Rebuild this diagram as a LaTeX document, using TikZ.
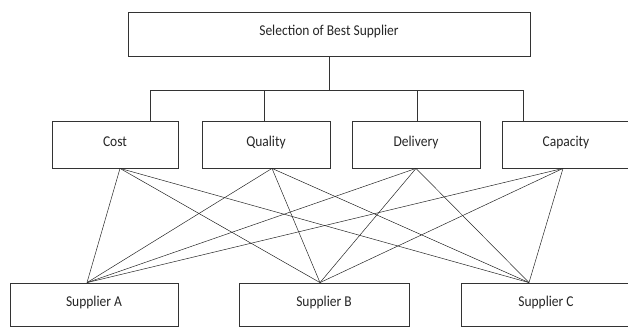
\documentclass[tikz,border=0pt]{standalone}
\usepackage{fontspec}
\setmainfont{Carlito}[FakeStretch=0.9]
\begin{document}
\begin{tikzpicture}[
            x=1pt,y=-1pt,
            box/.style={rectangle,draw=black!80,line width=0.8pt,inner sep=0pt,text=black!85,text height=11pt,text depth=8pt,font=\fontsize{15}{17}\selectfont},
            link/.style={draw=black!85,line width=0.5pt}
        ]
        \useasboundingbox (0,0) rectangle (628,329);
        \node[box,minimum width=402pt,minimum height=44pt] (top) at (329,34) {Selection of Best Supplier};
        \node[box,minimum width=126pt,minimum height=47pt] (cost) at (115,144.5) {Cost};
        \node[box,minimum width=128pt,minimum height=47pt] (quality) at (266,144.5) {Quality};
        \node[box,minimum width=128pt,minimum height=47pt] (delivery) at (416,144.5) {Delivery};
        \node[box,minimum width=128pt,minimum height=47pt] (capacity) at (566,144.5) {Capacity};
        \node[box,minimum width=168pt,minimum height=43pt] (suppA) at (94,304.5) {Supplier A};
        \node[box,minimum width=170pt,minimum height=43pt] (suppB) at (324,304.5) {Supplier B};
        \node[box,minimum width=170pt,minimum height=43pt] (suppC) at (546,304.5) {Supplier C};
        \coordinate (bar) at (329,90);
        \draw[draw=black!80,line width=0.8pt] (top.south) -- (bar);
        \draw[draw=black!80,line width=0.8pt] ([xshift=35pt]cost.north) |- (bar);
        \draw[draw=black!80,line width=0.8pt] ([xshift=-2pt]quality.north) |- (bar);
        \draw[draw=black!80,line width=0.8pt] ([xshift=1pt]delivery.north) |- (bar);
        \draw[draw=black!80,line width=0.8pt] ([xshift=-43pt]capacity.north) |- (bar);
        \foreach \c/\s in {cost/5,quality/6,delivery/0,capacity/-3} {
            \path[link] ([xshift=\s pt]\c.south) -- ([xshift=-7pt]suppA.north);
            \path[link] ([xshift=\s pt]\c.south) -- ([xshift=-4pt]suppB.north);
            \path[link] ([xshift=\s pt]\c.south) -- ([xshift=-17pt]suppC.north);
        }
    \end{tikzpicture}
\end{document}
